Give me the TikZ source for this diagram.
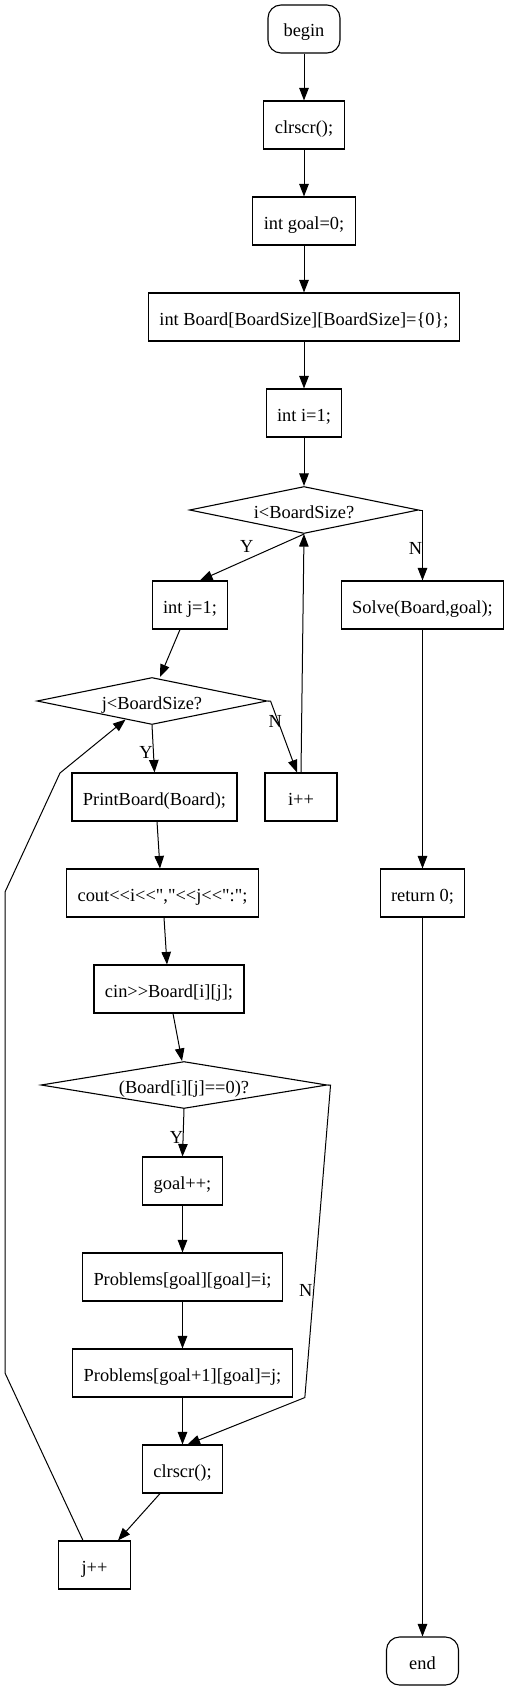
\documentclass[tikz,border=0pt]{standalone}
\usepackage{fontspec}
\setmainfont{Liberation Serif}[Ligatures=TeXOff]
\usetikzlibrary{shapes.geometric,arrows.meta}

\begin{document}
\begin{tikzpicture}[x=1pt,y=-1pt,
  every node/.style={font=\fontsize{18.4}{22}\selectfont, text height=16pt, text depth=0pt},
  proc/.style={draw, line width=1.1pt, rectangle, minimum width=72pt, minimum height=48pt, inner xsep=11pt, inner ysep=0pt},
  term/.style={proc, rounded corners=13pt},
  cond/.style={draw, line width=1.1pt, diamond, aspect=4.9, inner sep=0pt, minimum height=47pt},
  arr/.style={line width=1pt, -{Triangle[length=12.5pt,width=9.5pt]}},
  lbl/.style={inner sep=0pt, text height=12pt}]
\useasboundingbox (0,0) rectangle (509,1691);
% main column
\node[term] (begin) at (304,29) {begin};
\node[proc] (clr1) at (304,125) {clrscr();};
\node[proc] (goal) at (304,221) {int goal=0;};
\node[proc] (board) at (304,317) {int Board[BoardSize][BoardSize]=\{0\};};
\node[proc] (iinit) at (304,413) {int i=1;};
\node[cond, minimum width=229pt] (icond) at (304,510) {i<BoardSize?};
% outer loop
\node[proc] (jinit) at (190,605) {int j=1;};
\node[proc] (solve) at (422.5,605) {Solve(Board,goal);};
\node[cond, minimum width=230pt] (jcond) at (152,701) {j<BoardSize?};
\node[proc] (print) at (154.5,797) {PrintBoard(Board);};
\node[proc] (iinc) at (301,797) {i++};
\node[proc] (cout) at (162.5,893) {cout<<i<<","<<j<<":";};
\node[proc] (ret) at (422.5,893) {return 0;};
\node[proc] (cin) at (169,989) {cin>>Board[i][j];};
% inner loop
\node[cond, minimum width=286pt] (zcond) at (184,1085) {(Board[i][j]==0)?};
\node[proc] (goalinc) at (182.5,1181) {goal++;};
\node[proc] (prob1) at (182.5,1277) {Problems[goal][goal]=i;};
\node[proc] (prob2) at (182.5,1373) {Problems[goal+1][goal]=j;};
\node[proc] (clr2) at (182.5,1469) {clrscr();};
\node[proc] (jinc) at (94.5,1565) {j++};
\node[term] (end) at (422.5,1661) {end};

\draw[arr] (begin) -- (clr1);
\draw[arr] (clr1) -- (goal);
\draw[arr] (goal) -- (board);
\draw[arr] (board) -- (iinit);
\draw[arr] (iinit) -- (icond);
\draw[arr] (icond.south) -- node[lbl, pos=.55, yshift=13pt] {Y} ([xshift=10pt]jinit.north);
\draw[arr] (icond.east) -| node[lbl, pos=.775, xshift=-7pt] {N} (solve.north);
\draw[arr] ([xshift=-10pt]jinit.south) -- ([xshift=8pt]jcond.north);
\draw[arr] (jcond.south) -- node[lbl, pos=.58, xshift=-7.5pt] {Y} (print.north);
\draw[arr] (jcond.east) -- ++(3,0) -- node[lbl, pos=.29, xshift=-3pt] {N} ([xshift=-4pt]iinc.north);
\draw[arr] (iinc.north) -- (icond.south);
\draw[arr] (solve) -- (ret);
\draw[arr] (ret) -- (end);
\draw[arr] ([xshift=2.5pt]print.south) -- ([xshift=-2.5pt]cout.north);
\draw[arr] ([xshift=1.5pt]cout.south) -- ([xshift=-2pt]cin.north);
\draw[arr] ([xshift=4pt]cin.south) -- ([xshift=-2pt]zcond.north);
\draw[arr] (zcond.south) -- node[lbl, pos=.59, xshift=-6.5pt] {Y} (goalinc.north);
\draw[arr] (zcond.east) -- ++(3,0) -- node[lbl, pos=.657, xshift=-8pt] {N} ([xshift=12pt]prob2.south east) -- ([xshift=5pt]clr2.north);
\draw[arr] (goalinc) -- (prob1);
\draw[arr] (prob1) -- (prob2);
\draw[arr] (prob2) -- (clr2);
\draw[arr] ([xshift=-22.5pt]clr2.south) -- ([xshift=23.5pt]jinc.north);
\draw[arr] ([xshift=-11.5pt]jinc.north) -- (5,1373) -- (5,892) -- (60,773) -- (jcond.215);
\end{tikzpicture}
\end{document}
